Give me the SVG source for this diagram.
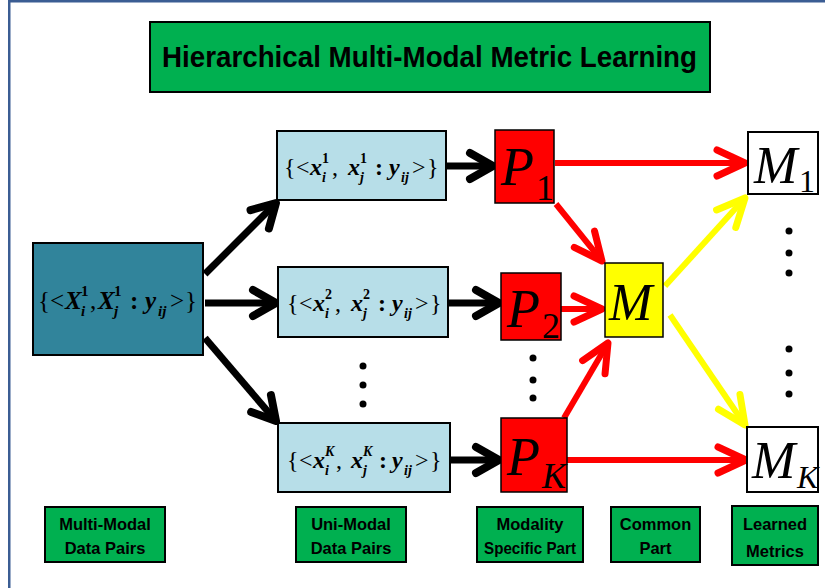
<svg xmlns="http://www.w3.org/2000/svg" width="825" height="588" viewBox="0 0 825 588">
<defs>
<style>
.frame{fill:#3b5d93}
.green{fill:#00b050;stroke:#000;stroke-width:2}
.lbl{font-family:"Liberation Sans",Arial,sans-serif;font-weight:bold;font-size:16.5px;fill:#000;text-anchor:middle}
.title{font-family:"Liberation Sans",Arial,sans-serif;font-weight:bold;font-size:29px;fill:#000}
.teal{fill:#31849b;stroke:#000;stroke-width:2}
.light{fill:#b7dee8;stroke:#000;stroke-width:2}
.red{fill:#ff0000;stroke:#000;stroke-width:1.5}
.yel{fill:#ffff00;stroke:#000;stroke-width:1.5}
.wht{fill:#fff;stroke:#000;stroke-width:2}
.math{font-family:"Liberation Serif","Times New Roman",serif;fill:#000}
.v{font-weight:bold;font-style:italic}
.b{font-weight:bold}
.big{font-family:"Liberation Serif","Times New Roman",serif;font-style:italic;fill:#000}
.up{font-style:normal}
.ab{stroke:#000;stroke-width:7;fill:none}
.ar{stroke:#ff0000;stroke-width:6;fill:none}
.ay{stroke:#ffff00;stroke-width:6;fill:none}
.dot{fill:#000}
</style>
<marker id="hb" markerUnits="userSpaceOnUse" viewBox="-32 -20 40 40" refX="0" refY="0" markerWidth="40" markerHeight="40" orient="auto">
<path d="M-23,-13 L0,0 L-23,13" fill="none" stroke="#000" stroke-width="8" stroke-linecap="round" stroke-linejoin="round"/>
</marker>
<marker id="hr" markerUnits="userSpaceOnUse" viewBox="-36 -20 44 40" refX="0" refY="0" markerWidth="44" markerHeight="40" orient="auto">
<path d="M-28,-13 L0,0 L-28,13" fill="none" stroke="#ff0000" stroke-width="7" stroke-linecap="round" stroke-linejoin="round"/>
</marker>
<marker id="hy" markerUnits="userSpaceOnUse" viewBox="-36 -20 44 40" refX="0" refY="0" markerWidth="44" markerHeight="40" orient="auto">
<path d="M-28,-13 L0,0 L-28,13" fill="none" stroke="#ffff00" stroke-width="7" stroke-linecap="round" stroke-linejoin="round"/>
</marker>
</defs>
<rect width="825" height="588" fill="#fff"/>
<rect class="frame" x="8" y="0" width="817" height="2.5"/>
<rect class="frame" x="8" y="0" width="2.5" height="588"/>

<g id="title">
<rect class="green" x="150" y="22" width="560" height="70"/>
<text class="title" x="162" y="67" textLength="535" lengthAdjust="spacingAndGlyphs">Hierarchical Multi-Modal Metric Learning</text>
</g>

<g id="connectors">
<line class="ab" x1="205" y1="274" x2="276" y2="203" marker-end="url(#hb)"/>
<line class="ab" x1="205" y1="303" x2="276" y2="303" marker-end="url(#hb)"/>
<line class="ab" x1="205" y1="338" x2="276" y2="421" marker-end="url(#hb)"/>
<line class="ab" x1="446" y1="166" x2="493" y2="166" marker-end="url(#hb)"/>
<line class="ab" x1="448" y1="303" x2="499" y2="303" marker-end="url(#hb)"/>
<line class="ab" x1="450" y1="460" x2="499" y2="460" marker-end="url(#hb)"/>
<line class="ar" x1="555" y1="163" x2="745" y2="163" marker-end="url(#hr)"/>
<line class="ar" x1="556" y1="204" x2="602" y2="261" marker-end="url(#hr)"/>
<line class="ar" x1="561" y1="309" x2="602" y2="309" marker-end="url(#hr)"/>
<line class="ar" x1="564" y1="418" x2="608" y2="343" marker-end="url(#hr)"/>
<line class="ar" x1="567" y1="460" x2="746" y2="460" marker-end="url(#hr)"/>
<line class="ay" x1="665" y1="286" x2="745" y2="198" marker-end="url(#hy)"/>
<line class="ay" x1="670" y1="315" x2="745" y2="425" marker-end="url(#hy)"/>
</g>

<g id="multimodal">
<rect class="teal" x="33" y="243" width="170" height="112"/>
<text class="math" font-size="25">
<tspan x="38" y="309">{</tspan><tspan x="50" y="309">&lt;</tspan>
<tspan class="v" x="65" y="309">X</tspan><tspan class="b" x="81" y="296" font-size="15">1</tspan><tspan class="v" x="81" y="316" font-size="15">i</tspan>
<tspan x="90" y="309">,</tspan>
<tspan class="v" x="98" y="309">X</tspan><tspan class="b" x="114" y="296" font-size="15">1</tspan><tspan class="v" x="114" y="316" font-size="15">j</tspan>
<tspan class="b" x="130" y="309">:</tspan>
<tspan class="v" x="145" y="309">y</tspan><tspan class="v" x="158" y="316" font-size="15">ij</tspan>
<tspan x="170" y="309">&gt;</tspan><tspan x="185" y="309">}</tspan>
</text>
</g>

<g id="unimodal1">
<rect class="light" x="277" y="131" width="169" height="69"/>
<text class="math" font-size="24">
<tspan x="284" y="175">{</tspan><tspan x="296" y="175">&lt;</tspan>
<tspan class="v" x="310" y="175">x</tspan><tspan class="b" x="322" y="163" font-size="14">1</tspan><tspan class="v" x="322" y="182" font-size="14">i</tspan>
<tspan x="332" y="175">,</tspan>
<tspan class="v" x="348" y="175">x</tspan><tspan class="b" x="360" y="163" font-size="14">1</tspan><tspan class="v" x="360" y="182" font-size="14">j</tspan>
<tspan class="b" x="375" y="175">:</tspan>
<tspan class="v" x="389" y="175">y</tspan><tspan class="v" x="401" y="182" font-size="14">ij</tspan>
<tspan x="412" y="175">&gt;</tspan><tspan x="427" y="175">}</tspan>
</text>
</g>

<g id="unimodal2">
<rect class="light" x="278" y="267" width="170" height="70"/>
<text class="math" font-size="24" transform="translate(3,136)">
<tspan x="284" y="175">{</tspan><tspan x="296" y="175">&lt;</tspan>
<tspan class="v" x="310" y="175">x</tspan><tspan class="b" x="322" y="163" font-size="14">2</tspan><tspan class="v" x="322" y="182" font-size="14">i</tspan>
<tspan x="332" y="175">,</tspan>
<tspan class="v" x="348" y="175">x</tspan><tspan class="b" x="360" y="163" font-size="14">2</tspan><tspan class="v" x="360" y="182" font-size="14">j</tspan>
<tspan class="b" x="375" y="175">:</tspan>
<tspan class="v" x="389" y="175">y</tspan><tspan class="v" x="401" y="182" font-size="14">ij</tspan>
<tspan x="412" y="175">&gt;</tspan><tspan x="427" y="175">}</tspan>
</text>
</g>

<g id="unimodalK">
<rect class="light" x="278" y="423" width="172" height="69"/>
<text class="math" font-size="24" transform="translate(3,293)">
<tspan x="284" y="175">{</tspan><tspan x="296" y="175">&lt;</tspan>
<tspan class="v" x="310" y="175">x</tspan><tspan class="v" x="322" y="163" font-size="14">K</tspan><tspan class="v" x="322" y="182" font-size="14">i</tspan>
<tspan x="333" y="175">,</tspan>
<tspan class="v" x="348" y="175">x</tspan><tspan class="v" x="360" y="163" font-size="14">K</tspan><tspan class="v" x="360" y="182" font-size="14">j</tspan>
<tspan class="b" x="376" y="175">:</tspan>
<tspan class="v" x="389" y="175">y</tspan><tspan class="v" x="401" y="182" font-size="14">ij</tspan>
<tspan x="412" y="175">&gt;</tspan><tspan x="427" y="175">}</tspan>
</text>
</g>

<g id="dots">
<circle class="dot" cx="363" cy="366" r="3.5"/><circle class="dot" cx="363" cy="385" r="3.5"/><circle class="dot" cx="363" cy="404" r="3.5"/>
<circle class="dot" cx="533" cy="358" r="3.5"/><circle class="dot" cx="533" cy="380" r="3.5"/><circle class="dot" cx="533" cy="398" r="3.5"/>
<circle class="dot" cx="789" cy="231" r="3.5"/><circle class="dot" cx="789" cy="253" r="3.5"/><circle class="dot" cx="789" cy="273" r="3.5"/>
<circle class="dot" cx="789" cy="349" r="3.5"/><circle class="dot" cx="789" cy="373" r="3.5"/><circle class="dot" cx="789" cy="394" r="3.5"/>
</g>

<g id="P1">
<rect class="red" x="495" y="130" width="59" height="73"/>
<text class="big" font-size="54"><tspan x="501" y="185">P</tspan><tspan class="up" x="536" y="200" font-size="36">1</tspan></text>
</g>
<g id="P2">
<rect class="red" x="501" y="273" width="60" height="67"/>
<text class="big" font-size="54"><tspan x="507" y="327">P</tspan><tspan class="up" x="542" y="338" font-size="36">2</tspan></text>
</g>
<g id="PK">
<rect class="red" x="501" y="418" width="66" height="74"/>
<text class="big" font-size="54"><tspan x="507" y="475">P</tspan><tspan x="542" y="488" font-size="36">K</tspan></text>
</g>
<g id="M">
<rect class="yel" x="605" y="263" width="58" height="74"/>
<text class="big" font-size="52" x="609" y="320">M</text>
</g>
<g id="M1">
<rect class="wht" x="748" y="132" width="70" height="62"/>
<text class="big" font-size="52"><tspan x="754" y="183">M</tspan><tspan class="up" x="799" y="192" font-size="32">1</tspan></text>
</g>
<g id="MK">
<rect class="wht" x="747" y="427" width="71" height="65"/>
<text class="big" font-size="52"><tspan x="752" y="478">M</tspan><tspan x="797" y="488" font-size="32">K</tspan></text>
</g>

<g id="label-multimodal">
<rect class="green" x="45" y="507" width="120" height="55"/>
<text class="lbl" x="105" y="530">Multi-Modal</text><text class="lbl" x="105" y="554">Data Pairs</text>
</g>
<g id="label-unimodal">
<rect class="green" x="296" y="507" width="110" height="55"/>
<text class="lbl" x="351" y="530">Uni-Modal</text><text class="lbl" x="351" y="554">Data Pairs</text>
</g>
<g id="label-specific">
<rect class="green" x="477" y="507" width="106" height="55"/>
<text class="lbl" x="530" y="530">Modality</text><text class="lbl" x="530" y="554" textLength="92" lengthAdjust="spacingAndGlyphs">Specific Part</text>
</g>
<g id="label-common">
<rect class="green" x="611" y="507" width="89" height="55"/>
<text class="lbl" x="655.5" y="530">Common</text><text class="lbl" x="655.5" y="554">Part</text>
</g>
<g id="label-learned">
<rect class="green" x="732" y="506" width="86" height="59"/>
<text class="lbl" x="775" y="530" font-size="18.5">Learned</text><text class="lbl" x="775" y="557" font-size="18.5">Metrics</text>
</g>
</svg>
